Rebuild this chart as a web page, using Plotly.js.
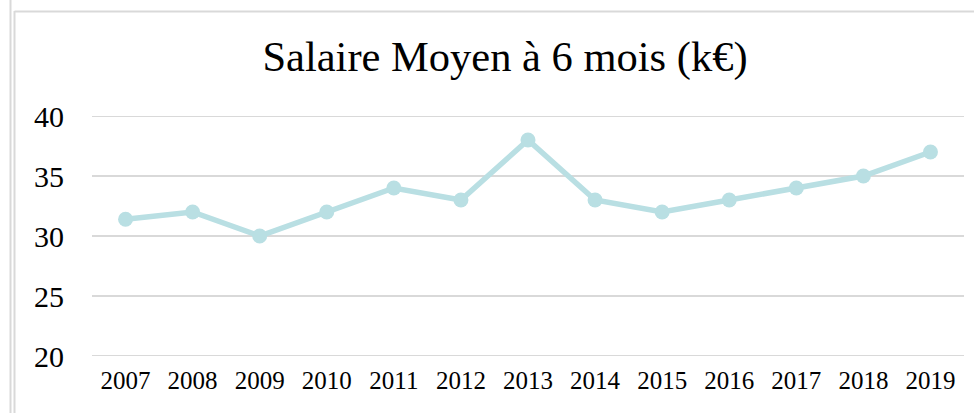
<!DOCTYPE html>
<html><head><meta charset="utf-8">
<script src="https://cdn.plot.ly/plotly-3.0.1.min.js"></script>
<style>body{margin:0;background:#fff}#c{width:974px;height:413px}</style>
</head><body><div id="c"></div>
<script>
const years = ['2007','2008','2009','2010','2011','2012','2013','2014','2015','2016','2017','2018','2019'];
const salaire = [31.4, 32, 30, 32, 34, 33, 38, 33, 32, 33, 34, 35, 37];
const yTicks = [20, 25, 30, 35, 40];

const L = 92, R = 964, T = 116, B = 356, W = 974, H = 413;
const px = x => (x - L) / (R - L);
const py = y => (B - y) / (B - T);
const border = '#D9D9D9';
const serif = 'Liberation Serif, Times New Roman, serif';

const gridShapes = yTicks.map(v => ({type: 'line', xref: 'paper', yref: 'y', x0: 0, x1: 1, y0: v, y1: v,
  line: {color: '#D9D9D9', width: 2}, layer: 'below'}));

Plotly.newPlot('c', [{
  x: years, y: salaire, type: 'scatter', mode: 'lines+markers',
  line: {color: '#B9DFE3', width: 5.5},
  marker: {color: '#B9DFE3', size: 15},
  hoverinfo: 'skip', cliponaxis: false
}], {
  width: W, height: H,
  margin: {l: L, r: W - R, t: T, b: H - B},
  paper_bgcolor: '#fff', plot_bgcolor: '#fff',
  showlegend: false,
  font: {family: serif, color: '#000'},
  title: {text: 'Salaire Moyen à 6 mois (k€)', font: {family: serif, size: 42.5, color: '#000'},
          x: 505 / W, xref: 'container', xanchor: 'center', y: 1 - 56 / H, yref: 'container', yanchor: 'middle'},
  xaxis: {type: 'category', range: [-0.5, 12.5], showgrid: false, zeroline: false, showline: false,
          ticks: '', tickfont: {family: serif, size: 25}, ticklabelstandoff: 7, fixedrange: true},
  yaxis: {range: [20, 40], tickvals: yTicks, ticktext: yTicks.map(String), showgrid: false,
          zeroline: false, showline: false, ticks: '', tickfont: {family: serif, size: 30}, ticklabelstandoff: 27, fixedrange: true},
  shapes: gridShapes.concat([
    {type: 'line', xref: 'paper', yref: 'paper', x0: px(10.5), x1: px(10.5), y0: py(0), y1: py(H), line: {color: border, width: 2}},
    {type: 'line', xref: 'paper', yref: 'paper', x0: px(14.5), x1: px(14.5), y0: py(11), y1: py(H), line: {color: border, width: 2}},
    {type: 'line', xref: 'paper', yref: 'paper', x0: px(14.5), x1: px(W), y0: py(11.5), y1: py(11.5), line: {color: border, width: 2}}
  ])
}, {staticPlot: true});
</script></body></html>
